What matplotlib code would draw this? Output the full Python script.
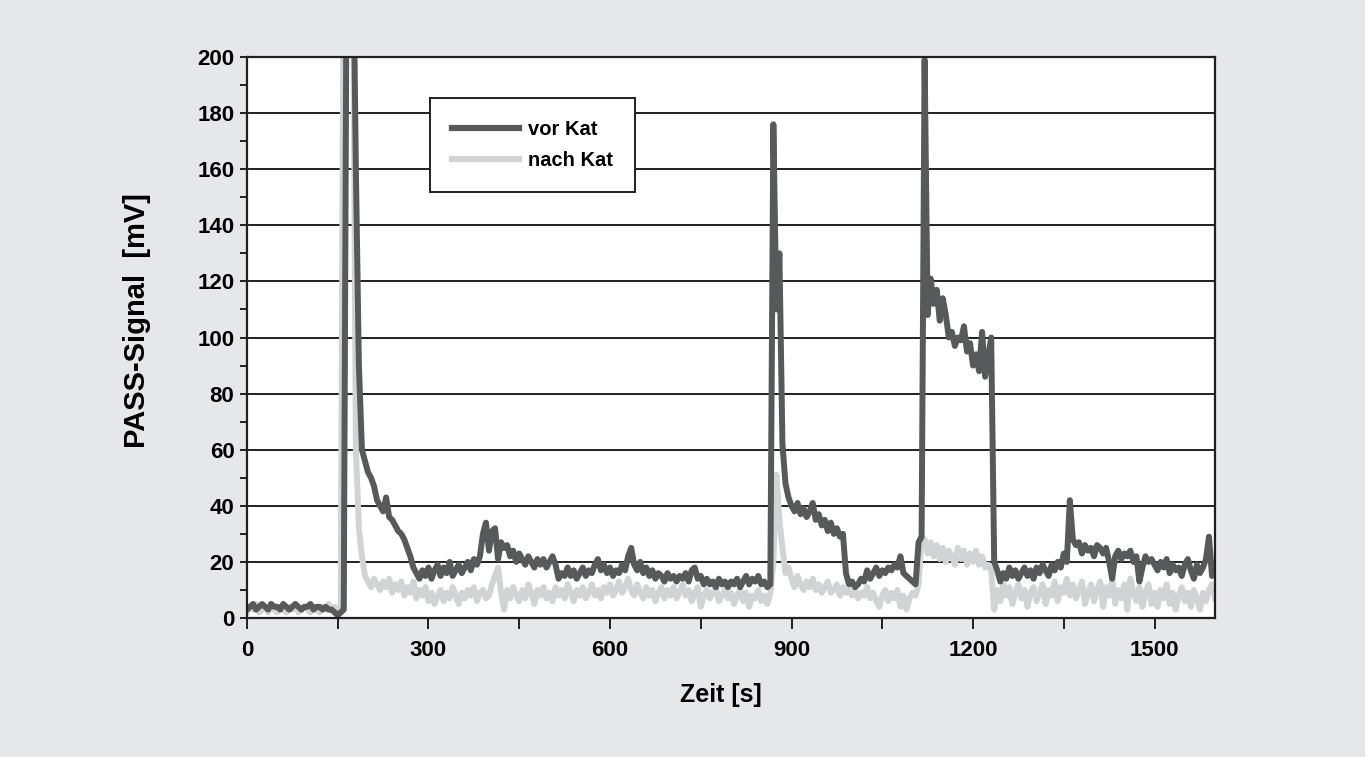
import numpy as np
import matplotlib
matplotlib.use("Agg")
import matplotlib.pyplot as plt
from matplotlib.patches import Rectangle

plt.rcParams['font.family'] = ['Liberation Sans', 'DejaVu Sans']
plt.rcParams['font.weight'] = 'bold'

# sample times [s], one value every 5 s
zeit = np.arange(0, 1601, 5)

# PASS-Signal vor Kat [mV]
vor_kat = [
    3, 4, 5, 3, 4, 5, 4, 3, 5, 4, 4, 3, 5, 4, 3, 4, 5, 4, 3, 4,
    4, 5, 3, 4, 4, 3, 4, 3, 3, 2, 1, 2, 3, 250, 250, 250, 160, 90, 60, 56,
    52, 50, 47, 42, 40, 38, 43, 36, 35, 33, 31, 30, 28, 25, 22, 18, 16, 14, 17, 15,
    18, 14, 17, 19, 15, 18, 16, 20, 15, 17, 19, 16, 18, 20, 17, 21, 19, 22, 30, 34,
    24, 31, 32, 21, 27, 25, 26, 22, 24, 20, 23, 21, 19, 22, 20, 18, 21, 19, 21, 18,
    20, 22, 19, 14, 16, 15, 18, 15, 17, 14, 16, 18, 15, 17, 16, 19, 21, 17, 19, 16,
    18, 15, 17, 16, 19, 17, 22, 25, 19, 17, 20, 16, 18, 15, 17, 14, 16, 15, 13, 16,
    14, 15, 13, 15, 14, 16, 13, 17, 18, 14, 15, 12, 14, 12, 13, 11, 14, 12, 13, 11,
    13, 12, 14, 11, 13, 15, 12, 14, 13, 15, 12, 13, 11, 12, 176, 110, 130, 62, 48, 43,
    40, 38, 41, 37, 39, 36, 38, 41, 35, 37, 33, 35, 31, 34, 30, 32, 29, 30, 16, 12,
    13, 11, 12, 14, 13, 17, 14, 16, 18, 15, 17, 16, 18, 17, 19, 18, 22, 16, 15, 14,
    13, 12, 27, 29, 199, 108, 121, 112, 117, 106, 114, 108, 100, 102, 97, 100, 99, 104, 95, 98,
    90, 94, 88, 102, 86, 93, 100, 20, 17, 13, 16, 14, 18, 15, 17, 14, 16, 18, 15, 17,
    14, 18, 16, 19, 17, 15, 19, 17, 20, 18, 23, 20, 42, 28, 26, 27, 23, 26, 24, 25,
    22, 26, 25, 23, 25, 20, 14, 22, 24, 21, 23, 22, 24, 20, 22, 13, 18, 22, 20, 21,
    19, 17, 20, 18, 21, 16, 19, 17, 18, 15, 19, 21, 17, 14, 19, 16, 18, 21, 29, 15,
    17,
]

# PASS-Signal nach Kat [mV]
nach_kat = [
    2, 4, 3, 5, 2, 3, 4, 2, 5, 3, 2, 4, 3, 2, 4, 3, 5, 2, 3, 4,
    3, 2, 4, 3, 2, 4, 3, 5, 3, 4, 2, 4, 250, 250, 250, 250, 60, 32, 22, 15,
    13, 11, 14, 12, 10, 13, 11, 14, 9, 12, 10, 13, 8, 11, 9, 13, 7, 10, 8, 11,
    6, 9, 5, 8, 10, 6, 9, 7, 11, 8, 5, 9, 7, 10, 8, 11, 6, 9, 10, 7,
    8, 12, 15, 18, 9, 3, 10, 7, 11, 8, 6, 10, 7, 12, 9, 5, 10, 8, 11, 7,
    9, 6, 11, 8, 10, 7, 12, 9, 6, 10, 8, 11, 7, 9, 12, 8, 10, 7, 11, 9,
    12, 8, 10, 13, 9, 11, 14, 10, 8, 12, 9, 7, 11, 8, 10, 6, 9, 11, 7, 10,
    8, 11, 7, 9, 12, 8, 10, 6, 9, 11, 4, 8, 10, 7, 9, 11, 6, 8, 10, 7,
    9, 5, 8, 10, 6, 9, 4, 8, 7, 10, 6, 8, 5, 9, 20, 51, 35, 25, 16, 18,
    14, 11, 15, 12, 10, 13, 11, 14, 10, 12, 9, 11, 13, 9, 10, 12, 8, 11, 9, 10,
    8, 10, 7, 9, 8, 11, 7, 9, 6, 4, 8, 10, 6, 9, 7, 10, 4, 8, 3, 7,
    9, 8, 12, 29, 28, 23, 27, 22, 26, 21, 25, 20, 24, 22, 19, 25, 21, 24, 19, 23,
    20, 24, 19, 22, 18, 19, 17, 3, 10, 6, 12, 8, 11, 5, 9, 12, 7, 10, 4, 9,
    11, 6, 9, 12, 5, 10, 8, 13, 6, 11, 9, 14, 8, 12, 7, 10, 13, 5, 9, 12,
    6, 10, 13, 4, 11, 8, 14, 5, 10, 7, 12, 3, 14, 9, 6, 11, 4, 9, 12, 5,
    9, 4, 10, 7, 12, 5, 9, 3, 8, 11, 6, 9, 4, 10, 7, 3, 9, 6, 10, 12,
    7,
]

x_ticks = [0, 300, 600, 900, 1200, 1500]
y_ticks = [0, 20, 40, 60, 80, 100, 120, 140, 160, 180, 200]

dunkel = '#58595b'
hell = '#d1d3d4'
schwarz = '#231f20'

fig = plt.figure(figsize=(13.72, 7.57), dpi=100)
fig.patch.set_facecolor('white')
# grey panel behind the chart
fig.patches.append(Rectangle((0, 0), 1365 / 1372, 1, transform=fig.transFigure,
                             facecolor='#e6e7e8', edgecolor='none', zorder=-10))
ax = fig.add_axes([0.18, 0.1836, 0.7056, 0.7411])
ax.set_zorder(5)
ax.set_facecolor('white')

ax.plot(zeit, nach_kat, color=hell, lw=4.3, solid_joinstyle='round', label='nach Kat', zorder=3)
ax.plot(zeit, vor_kat, color=dunkel, lw=4.3, solid_joinstyle='round', label='vor Kat', zorder=4)

ax.set_xlim(0, 1600)
ax.set_ylim(0, 200)
ax.set_xticks(x_ticks)
ax.set_xticks([150, 450, 750, 1050, 1350], minor=True)
ax.set_yticks(y_ticks)
ax.set_yticks(np.arange(10, 200, 20), minor=True)
ax.yaxis.grid(True, color=schwarz, lw=1.4, zorder=1)
ax.set_axisbelow(True)

ax.tick_params(axis='both', which='both', direction='out', color=schwarz, width=1.4,
               labelsize=16)
ax.tick_params(axis='x', which='both', length=8, pad=8)
ax.tick_params(axis='y', which='both', length=5, pad=4)
for s in ax.spines.values():
    s.set_color(schwarz)
    s.set_linewidth(1.6)
    s.set_zorder(5)

ax.set_xlabel('Zeit [s]', fontsize=18, fontweight='bold')
ax.set_ylabel('PASS-Signal  [mV]', fontsize=21, fontweight='bold')
ax.xaxis.set_label_coords(0.49, -0.115)
ax.yaxis.set_label_coords(-0.099, 0.53)

handles, labels = ax.get_legend_handles_labels()
leg = ax.legend(handles[::-1], labels[::-1], loc='upper left', bbox_to_anchor=(0.189, 0.927),
                fontsize=14.5, frameon=True, fancybox=False, framealpha=1,
                edgecolor=schwarz, handlelength=3.3, handletextpad=0.45,
                labelspacing=0.6, borderpad=1.1, borderaxespad=0)
leg.get_frame().set_linewidth(1.4)
for line in leg.get_lines():
    line.set_linewidth(4.5)
for t in leg.get_texts():
    t.set_fontweight('bold')

fig.savefig('out.png', dpi=100)
